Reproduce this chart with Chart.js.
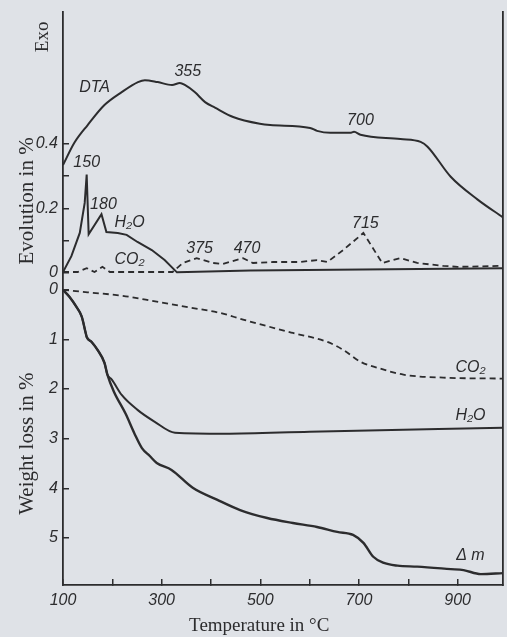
<!DOCTYPE html>
<html>
<head>
<meta charset="utf-8">
<script src="https://cdn.jsdelivr.net/npm/chart.js@4.4.1/dist/chart.umd.min.js"></script>
<style>
  html, body { margin: 0; padding: 0; background: #dfe2e7; }
  #wrap { position: relative; width: 507px; height: 637px; }
</style>
</head>
<body>
<div id="wrap"><canvas id="c"></canvas></div>
<script>
// ---------------- data ----------------
const temperatureTicks = [100, 200, 300, 400, 500, 600, 700, 800, 900];
const temperatureTickLabels = ['100', '', '300', '', '500', '', '700', '', '900'];
const evolutionTicks = [0, 0.1, 0.2, 0.3, 0.4];
const evolutionTickLabels = ['0', '', '0.2', '', '0.4'];
const weightTicks = [0, 1, 2, 3, 4, 5];
const weightTickLabels = ['0', '1', '2', '3', '4', '5'];

// DTA curve (arbitrary units, plotted on the evolution scale)
const dtaT = [100, 123, 150, 184, 219, 252, 266, 292, 321, 337, 347, 367, 388, 408, 445, 499, 520, 601, 615, 642, 682, 690, 703, 784, 825, 839, 886, 940, 992];
const dtaValue = [0.334, 0.403, 0.458, 0.52, 0.56, 0.591, 0.597, 0.591, 0.582, 0.588, 0.582, 0.56, 0.529, 0.512, 0.483, 0.462, 0.458, 0.449, 0.44, 0.434, 0.434, 0.437, 0.428, 0.415, 0.406, 0.391, 0.298, 0.228, 0.172];

// H2O evolution, %
const h2oEvolutionT = [100, 117, 134, 144, 148, 152, 178, 188, 211, 229, 251, 280, 306, 331, 480, 992];
const h2oEvolution = [0.003, 0.052, 0.124, 0.217, 0.305, 0.12, 0.182, 0.127, 0.124, 0.118, 0.096, 0.071, 0.04, 0.002, 0.008, 0.015];

// CO2 evolution, %
const co2EvolutionT = [100, 130, 148, 164, 180, 195, 322, 343, 371, 404, 424, 465, 485, 526, 581, 615, 636, 668, 709, 747, 784, 818, 871, 900, 992];
const co2Evolution = [0.003, 0.003, 0.015, 0.003, 0.019, 0.003, 0.003, 0.031, 0.046, 0.031, 0.028, 0.046, 0.031, 0.034, 0.034, 0.04, 0.034, 0.071, 0.124, 0.031, 0.046, 0.031, 0.022, 0.019, 0.022];

// total weight loss (delta m), %
const massLossT = [100, 113, 127, 138, 146, 148, 158, 170, 184, 190, 203, 227, 245, 260, 276, 290, 320, 363, 412, 459, 514, 566, 615, 656, 688, 709, 729, 749, 778, 818, 886, 912, 947, 992];
const massLoss = [0, 0.14, 0.34, 0.54, 0.87, 0.95, 1.05, 1.21, 1.47, 1.71, 2.05, 2.5, 2.9, 3.19, 3.35, 3.49, 3.63, 3.99, 4.23, 4.44, 4.6, 4.7, 4.78, 4.88, 4.94, 5.1, 5.38, 5.5, 5.56, 5.58, 5.63, 5.65, 5.73, 5.71];

// H2O weight loss, %
const h2oLossT = [100, 113, 127, 138, 146, 148, 158, 170, 184, 190, 199, 219, 251, 286, 327, 428, 600, 992];
const h2oLoss = [0, 0.14, 0.34, 0.54, 0.87, 0.95, 1.05, 1.21, 1.47, 1.71, 1.81, 2.12, 2.42, 2.66, 2.88, 2.9, 2.86, 2.78];

// CO2 weight loss, %
const co2LossT = [100, 150, 220, 290, 353, 420, 465, 566, 636, 668, 703, 737, 790, 871, 992];
const co2Loss = [0, 0.05, 0.12, 0.24, 0.35, 0.47, 0.6, 0.87, 1.05, 1.21, 1.45, 1.57, 1.71, 1.77, 1.79];

// curve annotations: text, temperature, value, axis
const annotationTexts = ['DTA', '355', '700', '150', '180', 'H\u2082O', 'CO\u2082', '375', '470', '715', 'CO\u2082', 'H\u2082O', '\u0394 m'];
const annotationT = [164, 353, 703, 148, 182, 235, 235, 377, 473, 713, 926, 926, 926];
const annotationValue = [0.573, 0.625, 0.471, 0.341, 0.211, 0.155, 0.043, 0.077, 0.077, 0.152, 1.57, 2.54, 5.36];
const annotationAxis = ['y', 'y', 'y', 'y', 'y', 'y', 'y', 'y', 'y', 'y', 'y2', 'y2', 'y2'];

// ---------------- styling ----------------
const ink = '#2c2c2e';
const tickFont = { family: '"Liberation Sans", Arial, sans-serif', size: 16, style: 'italic' };
const serif = '"Liberation Serif", "Times New Roman", serif';

function pts(xs, ys) { return xs.map((x, i) => ({ x: x, y: ys[i] })); }
function noPad(s) { s.paddingTop = 0; s.paddingBottom = 0; s.paddingLeft = 0; s.paddingRight = 0; }

const labelPlugin = {
  id: 'labelPlugin',
  afterLayout(chart) {
    // the weight-loss axis shares the label column of the evolution axis
    const a = chart.scales.y, b = chart.scales.y2;
    b.left = a.left;
    b.right = a.right;
    b.width = a.right - a.left;
  },
  afterDatasetsDraw(chart) {
    const ctx = chart.ctx;
    const xs = chart.scales.x;
    ctx.save();
    ctx.fillStyle = ink;
    ctx.textAlign = 'center';
    ctx.textBaseline = 'middle';
    ctx.font = 'italic 16px "Liberation Sans", Arial, sans-serif';
    annotationTexts.forEach((t, i) => {
      const sc = chart.scales[annotationAxis[i]];
      ctx.fillText(t, xs.getPixelForValue(annotationT[i]), sc.getPixelForValue(annotationValue[i]));
    });
    // rotated axis titles
    const left = chart.chartArea.left;
    const rot = (text, x, y, size) => {
      ctx.save();
      ctx.translate(x, y);
      ctx.rotate(-Math.PI / 2);
      ctx.font = size + 'px ' + serif;
      ctx.fillText(text, 0, 0);
      ctx.restore();
    };
    rot('Exo', left - 20, chart.scales.y.getPixelForValue(0.731), 19);
    rot('Evolution in %', left - 36, chart.scales.y.getPixelForValue(0.223), 21);
    rot('Weight loss in %', left - 36, chart.scales.y2.getPixelForValue(3.1), 21);
    ctx.restore();
  }
};

const lineDefaults = { pointRadius: 0, borderColor: ink, fill: false, tension: 0 };

new Chart(document.getElementById('c'), {
  type: 'line',
  data: {
    datasets: [
      Object.assign({ label: 'DTA', data: pts(dtaT, dtaValue), yAxisID: 'y', borderWidth: 2, cubicInterpolationMode: 'monotone' }, lineDefaults),
      Object.assign({ label: 'H2O evolution', data: pts(h2oEvolutionT, h2oEvolution), yAxisID: 'y', borderWidth: 2 }, lineDefaults),
      Object.assign({ label: 'CO2 evolution', data: pts(co2EvolutionT, co2Evolution), yAxisID: 'y', borderWidth: 1.8, borderDash: [6, 4] }, lineDefaults),
      Object.assign({ label: 'CO2 weight loss', data: pts(co2LossT, co2Loss), yAxisID: 'y2', borderWidth: 1.8, borderDash: [6, 4], cubicInterpolationMode: 'monotone' }, lineDefaults),
      Object.assign({ label: 'H2O weight loss', data: pts(h2oLossT, h2oLoss), yAxisID: 'y2', borderWidth: 2, cubicInterpolationMode: 'monotone' }, lineDefaults),
      Object.assign({ label: 'Weight loss', data: pts(massLossT, massLoss), yAxisID: 'y2', borderWidth: 2.4, cubicInterpolationMode: 'monotone' }, lineDefaults)
    ]
  },
  options: {
    responsive: true,
    maintainAspectRatio: false,
    animation: false,
    events: [],
    layout: { padding: { top: 12, left: 0, right: 0, bottom: 0 } },
    plugins: { legend: { display: false }, tooltip: { enabled: false } },
    scales: {
      x: {
        type: 'linear', position: 'bottom', min: 100, max: 992,
        afterBuildTicks: s => { s.ticks = temperatureTicks.map(v => ({ value: v })); },
        afterFit: s => { s.height = 52; noPad(s); },
        ticks: { autoSkip: false, maxRotation: 0, padding: 12, color: ink, font: tickFont,
                 callback: (v, i) => temperatureTickLabels[i] },
        grid: { drawOnChartArea: false, tickLength: -6, color: ink, lineWidth: 1.5 },
        border: { display: true, color: ink, width: 1.8 },
        title: { display: true, text: 'Temperature in \u00b0C' + '\u00a0'.repeat(10), color: ink,
                 font: { family: serif, size: 19 }, padding: { top: 0, bottom: 0 } }
      },
      y: {
        type: 'linear', position: 'left', weight: 2, min: -0.966, max: 0.808,
        afterBuildTicks: s => { s.ticks = evolutionTicks.map(v => ({ value: v })); },
        afterFit: s => { s.width = 63; noPad(s); },
        ticks: { autoSkip: false, padding: 11, color: ink, font: tickFont,
                 callback: (v, i) => evolutionTickLabels[i] },
        grid: { drawOnChartArea: false, tickLength: -6, color: ink, lineWidth: 1.5 },
        border: { display: true, color: ink, width: 1.8 }
      },
      y2: {
        type: 'linear', position: 'left', weight: 1, reverse: true, min: -5.6, max: 5.95,
        afterBuildTicks: s => { s.ticks = weightTicks.map(v => ({ value: v })); },
        afterFit: s => { s.width = 0; noPad(s); },
        ticks: { autoSkip: false, padding: 11, color: ink, font: tickFont,
                 callback: (v, i) => weightTickLabels[i] },
        grid: { drawOnChartArea: false, tickLength: -6, color: ink, lineWidth: 1.5 },
        border: { display: false }
      },
      frame: {
        type: 'linear', position: 'right', min: 0, max: 1,
        afterFit: s => { s.width = 4; noPad(s); },
        ticks: { display: false },
        grid: { display: false, drawTicks: false },
        border: { display: true, color: ink, width: 1.8 }
      }
    }
  },
  plugins: [labelPlugin]
});
</script>
</body>
</html>
